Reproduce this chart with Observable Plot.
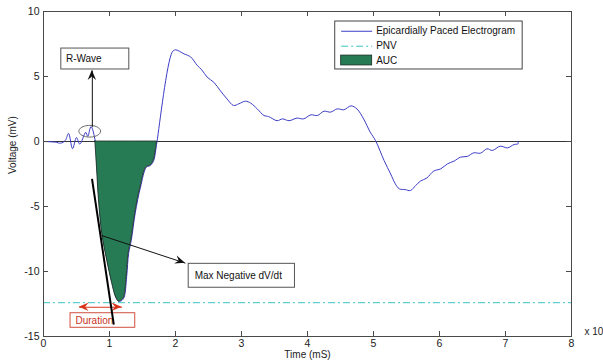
<!DOCTYPE html>
<html>
<head>
<meta charset="utf-8">
<script src="https://cdn.jsdelivr.net/npm/d3@7"></script>
<script src="https://cdn.jsdelivr.net/npm/@observablehq/plot@0.6"></script>
<style>
  html, body { margin: 0; padding: 0; background: #fff; }
  #chart svg { display: block; }
</style>
</head>
<body>
<div id="chart"></div>
<script>
// ---- data ----
const time = [0, 0.18, 0.26, 0.33, 0.38, 0.44, 0.5, 0.55, 0.64, 0.67,
  0.72, 0.785, 0.81, 0.84, 0.89, 0.965, 1.04, 1.1, 1.14, 1.18,
  1.22, 1.26, 1.29, 1.33, 1.39, 1.47, 1.56, 1.62, 1.67, 1.70,
  1.72, 1.95, 2.0, 2.13, 2.23, 2.33, 2.40, 2.48, 2.58, 2.68,
  2.78, 2.88, 2.96, 3.06, 3.14, 3.24, 3.34, 3.41, 3.54, 3.62,
  3.72, 3.84, 3.94, 4.05, 4.15, 4.25, 4.35, 4.45, 4.55, 4.66,
  4.75, 4.85, 4.95, 5.03, 5.16, 5.26, 5.33, 5.39, 5.48, 5.56,
  5.64, 5.71, 5.81, 5.91, 6.02, 6.12, 6.22, 6.32, 6.42, 6.52,
  6.62, 6.72, 6.80, 6.92, 7.03, 7.13, 7.19, 7.19];
const voltage = [0, -0.05, -0.13, 0.08, 0.62, -0.55, 0.3, -0.2, 0.7, 0.4,
  1.15, 0, -1.97, -4.5, -7.1, -9.15, -10.9, -12.0, -12.3, -12.25,
  -12.0, -10.4, -8.6, -7.6, -5.5, -3.5, -1.97, -1.85, -1.46, -0.7,
  0, 6.87, 7.05, 6.74, 6.5, 5.85, 5.5, 4.95, 4.56, 3.9,
  3.28, 2.77, 2.9, 3.1, 2.95, 2.5, 2.0, 1.92, 1.6, 1.74,
  1.6, 1.8, 1.74, 2.05, 2.0, 2.33, 2.26, 2.51, 2.44, 2.74,
  2.5, 1.74, 0.72, 0.08, -1.46, -2.5, -3.25, -3.64, -3.7, -3.77,
  -3.38, -3.05, -2.8, -2.28, -2.1, -1.72, -1.51, -1.2, -1.15, -0.87,
  -0.9, -0.56, -0.69, -0.36, -0.49, -0.23, -0.18, 0];
const pnv = -12.4;
const aucStart = 0.785, aucEnd = 1.72;
const xTicks = [0, 1, 2, 3, 4, 5, 6, 7, 8];
const yTicks = [-15, -10, -5, 0, 5, 10];
const legendLabels = ["Epicardially Paced Electrogram", "PNV", "AUC"];
const xLabel = "Time (mS)";
const yLabel = "Voltage (mV)";
const xExponent = "x 10";

// annotation texts (positions in data units)
const rWave = {label: "R-Wave", box: [0.27, 1.30, 5.54, 7.15], cx: 0.70, cy: 0.79, rx: 0.164, ry: 0.45};
const maxNeg = {label: "Max Negative dV/dt", box: [2.20, 3.81, -9.41, -11.25]};
const duration = {label: "Duration", box: [0.41, 1.39, -13.21, -14.33]};
const tangent = [{x1: 0.735, y1: -2.87, x2: 1.065, y2: -14.08}];
const blackArrows = [
  {x1: 0.74, y1: 1.12, x2: 0.74, y2: 5.46},
  {x1: 0.88, y1: -7.23, x2: 2.15, y2: -9.36}
];
const redArrows = [
  {x1: 0.86, y1: -12.75, x2: 0.54, y2: -12.75},
  {x1: 0.86, y1: -12.75, x2: 1.19, y2: -12.75}
];

// ---- build ----
const trace = time.map((t, i) => ({t, v: voltage[i]}));
const auc = trace.filter(d => d.t >= aucStart && d.t <= aucEnd);

const lineColor = "#3d3dc6";
const pnvColor = "#3cc3c3";
const aucColor = "#267b54";
const frameColor = "#4a4a4a";
const red = "#d9341c";

const ell = d3.range(49).map(i => ({
  x: rWave.cx + rWave.rx * Math.cos(2 * Math.PI * i / 48),
  y: rWave.cy + rWave.ry * Math.sin(2 * Math.PI * i / 48)
}));

function boxData(b) { return [{x1: b.box[0], x2: b.box[1], y1: b.box[2], y2: b.box[3]}]; }

function heads(list, color) {
  return (index, scales) => {
    const g = d3.create("svg:g");
    for (const a of list) {
      const x1 = scales.x(a.x1), y1 = scales.y(a.y1), x2 = scales.x(a.x2), y2 = scales.y(a.y2);
      const ang = Math.atan2(y2 - y1, x2 - x1);
      const ux = Math.cos(ang), uy = Math.sin(ang), nx = -uy, ny = ux;
      const L = 10, W = 4.2;
      const pt = (d, w) => [x2 - d * ux + w * nx, y2 - d * uy + w * ny];
      const pts = [pt(0, 0), pt(L, W), pt(0.65 * L, 0), pt(L, -W)];
      g.append("polygon").attr("points", pts.map(p => p.join(",")).join(" ")).attr("fill", color);
    }
    return g.node();
  };
}

// legend entries (data units for placement)
const legend = {box: [4.42, 7.26, 5.54, 9.23], rows: [8.48, 7.33, 6.23], sx1: 4.51, sx2: 4.98, tx: 5.04};

const plot = Plot.plot({
  width: 603,
  height: 364,
  marginLeft: 43,
  marginRight: 32,
  marginTop: 11,
  marginBottom: 28,
  x: {domain: [0, 8]},
  y: {domain: [-15, 10]},
  style: {fontFamily: "'Liberation Sans', Arial, sans-serif", fontSize: "10px", background: "#fff", overflow: "visible"},
  marks: [
    // zero line + PNV
    Plot.ruleY([0], {stroke: "#333", strokeWidth: 1}),
    Plot.ruleY([pnv], {stroke: pnvColor, strokeWidth: 1, strokeDasharray: "7,3,2,3"}),
    // trace
    Plot.line(trace, {x: "t", y: "v", stroke: lineColor, strokeWidth: 1, curve: "catmull-rom"}),
    Plot.areaY(auc, {x: "t", y1: 0, y2: "v", fill: aucColor, stroke: "#1a2a20", strokeWidth: 0.8, curve: "catmull-rom"}),
    // R-wave annotation
    Plot.line(ell, {x: "x", y: "y", stroke: "#666", strokeWidth: 1, curve: "linear-closed"}),
    Plot.link(blackArrows, {x1: "x1", y1: "y1", x2: "x2", y2: "y2", stroke: "#111", strokeWidth: 1}),
    heads(blackArrows, "#111"),
    Plot.rect(boxData(rWave), {x1: "x1", x2: "x2", y1: "y1", y2: "y2", fill: "#fff", stroke: "#555"}),
    Plot.text([rWave.label], {x: rWave.box[0] + 0.07, y: (rWave.box[2] + rWave.box[3]) / 2, textAnchor: "start", fill: "#111", fontSize: 10}),
    // max negative dV/dt
    Plot.rect(boxData(maxNeg), {x1: "x1", x2: "x2", y1: "y1", y2: "y2", fill: "#fff", stroke: "#555"}),
    Plot.text([maxNeg.label], {x: maxNeg.box[0] + 0.09, y: (maxNeg.box[2] + maxNeg.box[3]) / 2, textAnchor: "start", fill: "#111", fontSize: 10}),
    // duration
    Plot.link(redArrows, {x1: "x1", y1: "y1", x2: "x2", y2: "y2", stroke: red, strokeWidth: 1}),
    heads(redArrows, red),
    Plot.rect(boxData(duration), {x1: "x1", x2: "x2", y1: "y1", y2: "y2", fill: "#fff", stroke: "#d05040"}),
    Plot.text([duration.label], {x: duration.box[0] + 0.075, y: (duration.box[2] + duration.box[3]) / 2, textAnchor: "start", fill: "#c8321e", fontSize: 10}),
    // tangent line
    Plot.link(tangent, {x1: "x1", y1: "y1", x2: "x2", y2: "y2", stroke: "#000", strokeWidth: 2}),
    // legend
    Plot.rect([0], {x1: legend.box[0], x2: legend.box[1], y1: legend.box[2], y2: legend.box[3], fill: "#fff", stroke: "#444"}),
    Plot.link([0], {x1: legend.sx1, x2: legend.sx2, y1: legend.rows[0], y2: legend.rows[0], stroke: lineColor, strokeWidth: 1}),
    Plot.link([0], {x1: legend.sx1, x2: legend.sx2, y1: legend.rows[1], y2: legend.rows[1], stroke: pnvColor, strokeWidth: 1, strokeDasharray: "7,3,2,3"}),
    Plot.rect([0], {x1: legend.sx1, x2: legend.sx2, y1: legend.rows[2] - 0.38, y2: legend.rows[2] + 0.38, fill: aucColor, stroke: "#1a2a20", strokeWidth: 0.8}),
    Plot.text(legendLabels, {x: legend.tx, y: (d, i) => legend.rows[i], textAnchor: "start", fill: "#111", fontSize: 10}),
    // frame and inner ticks
    Plot.frame({stroke: frameColor}),
    Plot.tickX(xTicks, {x: d => d, stroke: frameColor, insetTop: 320}),
    Plot.tickX(xTicks, {x: d => d, stroke: frameColor, insetBottom: 320}),
    Plot.tickY(yTicks, {y: d => d, stroke: frameColor, insetRight: 523}),
    Plot.tickY(yTicks, {y: d => d, stroke: frameColor, insetLeft: 523}),
    // tick labels
    Plot.axisX(xTicks, {tickSize: 0, tickPadding: 3, label: null, tickFormat: d => String(d), fontSize: 10.5, fill: "#222"}),
    Plot.axisY(yTicks, {tickSize: 0, tickPadding: 4, label: null, tickFormat: d => String(d), fontSize: 10.5, fill: "#222"}),
    // axis labels
    Plot.text([xLabel], {frameAnchor: "bottom", dy: 21.5, fill: "#222", fontSize: 10}),
    Plot.text([yLabel], {frameAnchor: "left", dx: -31, rotate: -90, fill: "#222", fontSize: 10}),
    Plot.text([xExponent], {frameAnchor: "bottom-right", dx: 13, dy: -2, textAnchor: "start", fill: "#222", fontSize: 10})
  ]
});
document.getElementById("chart").append(plot);
</script>
</body>
</html>
